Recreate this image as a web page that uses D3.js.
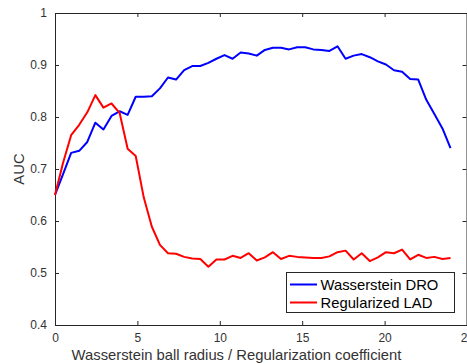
<!DOCTYPE html>
<html>
<head>
<meta charset="utf-8">
<script src="https://cdn.jsdelivr.net/npm/d3@7"></script>
<style>
  html, body { margin: 0; padding: 0; background: #fff; }
  svg { display: block; font-family: "Liberation Sans", Arial, sans-serif; }
</style>
</head>
<body>
<svg id="chart" width="467" height="364"></svg>
<script>
// Parameter grid: 50 evenly spaced values from 0 to 24
const radius = d3.range(50).map(i => i * 24 / 49);

// AUC for the Wasserstein DRO model
const aucDRO = [
  0.650, 0.690, 0.731, 0.735, 0.752, 0.789, 0.776, 0.802, 0.811, 0.804,
  0.839, 0.839, 0.840, 0.855, 0.876, 0.872, 0.890, 0.898, 0.898, 0.904,
  0.912, 0.919, 0.912, 0.924, 0.922, 0.918, 0.929, 0.933, 0.933, 0.930,
  0.934, 0.934, 0.930, 0.929, 0.927, 0.936, 0.912, 0.918, 0.921, 0.915,
  0.907, 0.901, 0.890, 0.887, 0.873, 0.872, 0.833, 0.806, 0.778, 0.740
];

// AUC for the regularized LAD model
const aucLAD = [
  0.650, 0.712, 0.765, 0.785, 0.809, 0.842, 0.818, 0.826, 0.808, 0.739,
  0.725, 0.645, 0.589, 0.554, 0.538, 0.537, 0.531, 0.528, 0.527, 0.512,
  0.526, 0.526, 0.533, 0.529, 0.538, 0.524, 0.530, 0.540, 0.527, 0.533,
  0.531, 0.530, 0.529, 0.529, 0.532, 0.540, 0.543, 0.526, 0.538, 0.523,
  0.530, 0.540, 0.538, 0.545, 0.526, 0.535, 0.529, 0.531, 0.527, 0.529
];

const seriesNames = ["Wasserstein DRO", "Regularized LAD"];
const seriesColors = ["#0000ff", "#ff0000"];
const xTicks = [0, 5, 10, 15, 20, 25];
const yTicks = [0.4, 0.5, 0.6, 0.7, 0.8, 0.9, 1];

const xLabel = "Wasserstein ball radius / Regularization coefficient";
const yLabel = "AUC";

const svg = d3.select("#chart");
const plotL = 55, plotR = 467, plotT = 13, plotB = 325;
const axisColor = "#262626";
const textColor = "#333333";

const x = d3.scaleLinear().domain([0, 25]).range([plotL, plotR]);
const y = d3.scaleLinear().domain([0.4, 1]).range([plotB, plotT]);

// Axes with inward ticks on all four sides (boxed plot)
const tickLen = 4;
function styleAxis(g) {
  g.select(".domain").attr("stroke", axisColor).attr("stroke-width", 1);
  g.selectAll(".tick line").attr("stroke", axisColor).attr("stroke-width", 1);
  g.selectAll(".tick text").attr("fill", textColor).attr("font-size", 12);
}

svg.append("g")
  .attr("transform", `translate(0,${plotB})`)
  .call(d3.axisBottom(x).tickValues(xTicks).tickFormat(d3.format("d"))
    .tickSizeInner(-tickLen).tickSizeOuter(0).tickPadding(8))
  .call(styleAxis);

svg.append("g")
  .attr("transform", `translate(0,${plotT})`)
  .call(d3.axisTop(x).tickValues(xTicks).tickFormat("")
    .tickSizeInner(-tickLen).tickSizeOuter(0))
  .call(styleAxis);

svg.append("g")
  .attr("transform", `translate(${plotL},0)`)
  .call(d3.axisLeft(y).tickValues(yTicks).tickFormat(d => d === 1 ? "1" : d3.format(".1f")(d))
    .tickSizeInner(-tickLen).tickSizeOuter(0).tickPadding(8))
  .call(styleAxis);

svg.append("g")
  .attr("transform", `translate(${plotR - 0.5},0)`)
  .call(d3.axisRight(y).tickValues(yTicks).tickFormat("")
    .tickSizeInner(-tickLen).tickSizeOuter(0))
  .call(styleAxis);

// Data lines
const line = d3.line().x((d, i) => x(radius[i])).y(d => y(d));
[aucDRO, aucLAD].forEach((vals, k) => {
  svg.append("path")
    .datum(vals)
    .attr("fill", "none")
    .attr("stroke", seriesColors[k])
    .attr("stroke-width", 2)
    .attr("stroke-linejoin", "round")
    .attr("d", line);
});

// Axis labels
svg.append("text")
  .attr("x", 236.5).attr("y", 360)
  .attr("text-anchor", "middle")
  .attr("font-size", 14.8)
  .attr("fill", textColor)
  .text(xLabel);

svg.append("text")
  .attr("transform", `translate(24,${(plotT + plotB) / 2}) rotate(-90)`)
  .attr("text-anchor", "middle")
  .attr("font-size", 14.8)
  .attr("fill", textColor)
  .text(yLabel);

// Legend
const legend = svg.append("g");
legend.append("rect")
  .attr("x", 286.5).attr("y", 272.5)
  .attr("width", 168).attr("height", 40)
  .attr("fill", "#fff")
  .attr("stroke", axisColor).attr("stroke-width", 1);

seriesNames.forEach((name, k) => {
  const cy = 284.5 + k * 18;
  legend.append("line")
    .attr("x1", 290).attr("x2", 317)
    .attr("y1", cy).attr("y2", cy)
    .attr("stroke", seriesColors[k]).attr("stroke-width", 2);
  legend.append("text")
    .attr("x", 320.5).attr("y", cy + 5)
    .attr("font-size", 14.8)
    .attr("fill", "#000")
    .text(name);
});
</script>
</body>
</html>
